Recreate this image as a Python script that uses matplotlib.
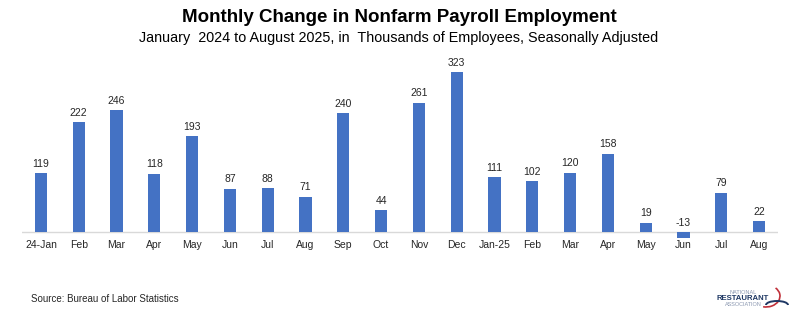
import matplotlib
matplotlib.use("Agg")
import matplotlib.pyplot as plt
from matplotlib.patches import Arc

months = ["24-Jan", "Feb", "Mar", "Apr", "May", "Jun", "Jul", "Aug", "Sep", "Oct",
          "Nov", "Dec", "Jan-25", "Feb", "Mar", "Apr", "May", "Jun", "Jul", "Aug"]
values = [119, 222, 246, 118, 193, 87, 88, 71, 240, 44,
          261, 323, 111, 102, 120, 158, 19, -13, 79, 22]

W, H = 798, 324
fig = plt.figure(figsize=(W / 100, H / 100), dpi=100)
fig.patch.set_facecolor("white")

sans = ["Liberation Sans", "DejaVu Sans"]

ax = fig.add_axes([22 / W, 0.2627, (778 - 22) / W, 0.5407])
x = list(range(len(values)))
ax.bar(x, values, width=0.32, color="#4472C4", zorder=2)
ax.axhline(0, color="#D9D9D9", lw=1.0, zorder=1)
ax.set_xlim(-0.5, len(values) - 0.5)
ax.set_ylim(-14, 340)
for s in ax.spines.values():
    s.set_visible(False)
ax.set_yticks([])
ax.set_xticks(x)
ax.set_xticklabels(months, family=sans, fontsize=7.5, color="#262626")
ax.tick_params(axis="x", length=0, pad=1)

for xi, v in zip(x, values):
    ax.text(xi, max(v, 0) + 9, str(v), ha="center", va="bottom",
            family=sans, fontsize=7.5, color="#262626")

fig.text(0.5, 1 - 18 / H, "Monthly Change in Nonfarm Payroll Employment",
         ha="center", va="center", fontsize=13.5, fontweight="bold", family=sans, color="black")
fig.text(0.5, 1 - 38 / H,
         "January  2024 to August 2025, in  Thousands of Employees, Seasonally Adjusted",
         ha="center", va="center", fontsize=10.4, family=sans, color="black")
fig.text(31 / W, 1 - 299 / H, "Source: Bureau of Labor Statistics",
         ha="left", va="center", fontsize=7, family=sans, color="#262626")

# logo
fig.text(743 / W, 1 - 293 / H, "NATIONAL", ha="center", va="center",
         fontsize=4, family=sans, color="#8A97B0")
fig.text(743 / W, 1 - 299 / H, "RESTAURANT", ha="center", va="center",
         fontsize=5.6, fontweight="bold", family=sans, color="#1F3864")
fig.text(743 / W, 1 - 305 / H, "ASSOCIATION", ha="center", va="center",
         fontsize=4, family=sans, color="#8A97B0")
lax = fig.add_axes([0, 0, 1, 1], facecolor="none")
lax.set_xlim(0, W)
lax.set_ylim(H, 0)
lax.axis("off")
lax.add_patch(Arc((766, 296), 28, 22, theta1=-40, theta2=105, color="#C0303A", lw=1.2))
lax.add_patch(Arc((777, 305), 22, 8, theta1=180, theta2=360, color="#1F3864", lw=1.4))

fig.savefig("out.png", dpi=100, facecolor="white")
